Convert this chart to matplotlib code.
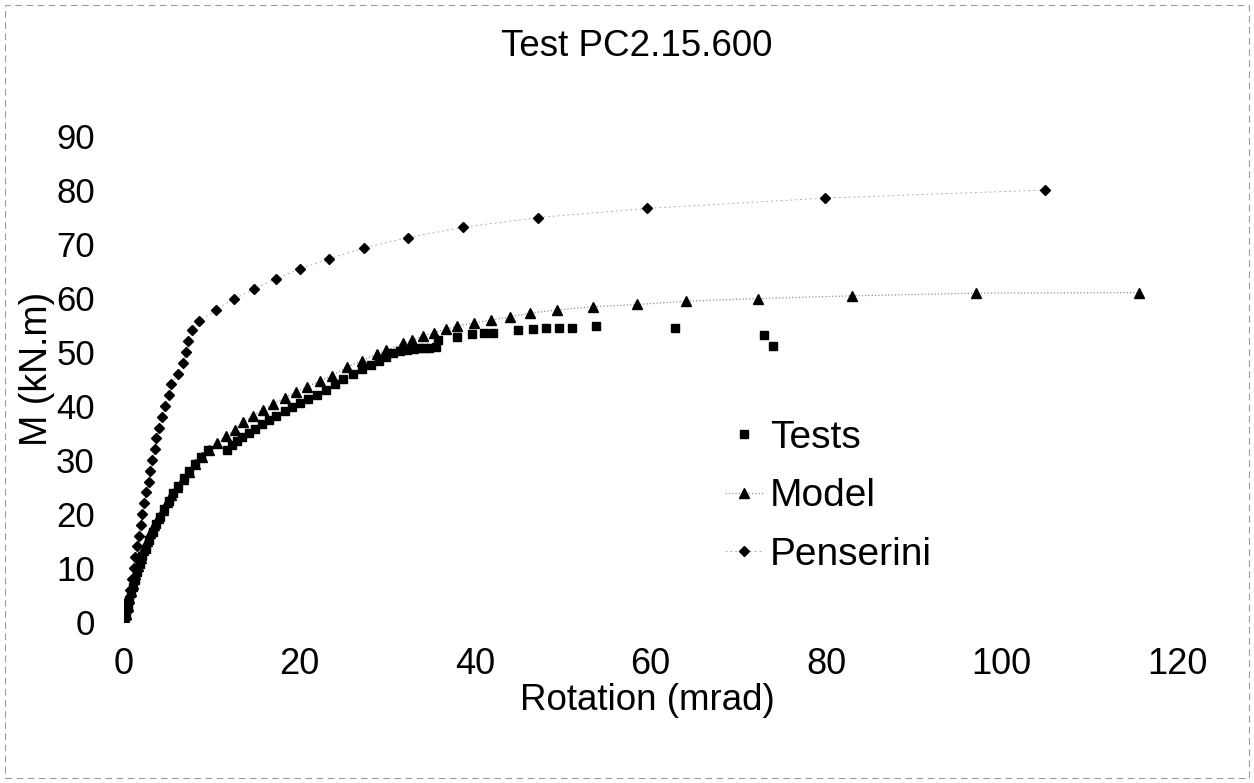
#!/usr/bin/env python
# -*- coding: utf-8 -*-

# Moment-rotation curve, test PC2.15.600: tests vs model vs Penserini

import matplotlib
matplotlib.use('Agg')
import matplotlib.pyplot as plt
from matplotlib.patches import Rectangle

plt.rcParams['font.family'] = ['Liberation Sans', 'DejaVu Sans']

# -----------------------------------------------------------------------------
# Data (rotation in mrad, moment in kN.m)
# -----------------------------------------------------------------------------

tests_rot = [0, 0.2, 0.4, 0.6, 0.8, 1.0, 1.2, 1.5, 1.8, 2.1, 2.5, 2.9, 3.3, 3.7,
             4.1, 4.6, 5.1, 5.6, 6.2, 6.8, 7.4, 8.1, 8.8, 9.6,
             11.7, 12.3, 12.9, 13.5, 14.2, 14.9, 15.7, 16.5, 17.3, 18.3, 19.2,
             20.1, 21.0, 22.0, 23.0, 24.0, 25.0, 26.1, 27.1, 28.1, 29.1, 29.9,
             30.6, 31.5, 32.3, 33.0, 33.6, 34.2, 34.8, 35.6, 35.8, 37.9, 39.7,
             41.0, 42.1, 44.9, 46.6, 48.1, 49.6, 51.1, 53.8, 62.8, 72.9, 74.0]
tests_m = [0, 1.2, 2.6, 4.0, 5.3, 6.5, 7.7, 9.3, 10.8, 12.2, 13.5, 15.2, 16.7, 18.1,
           19.4, 21.0, 22.4, 23.8, 25.2, 26.6, 27.9, 29.3, 30.6, 31.8,
           31.9, 32.8, 33.6, 34.3, 35.0, 35.8, 36.6, 37.4, 38.2, 39.0, 39.8,
           40.6, 41.3, 42.1, 42.9, 44.0, 45.0, 46.0, 46.8, 47.6, 48.4, 49.1,
           49.8, 50.1, 50.4, 50.6, 50.7, 50.8, 50.8, 50.9, 52.2, 52.8, 53.3,
           53.5, 53.6, 54.1, 54.2, 54.4, 54.5, 54.5, 54.9, 54.5, 53.1, 51.2]

model_rot = [0, 0.2, 0.4, 0.6, 0.8, 1.0, 1.3, 1.6, 1.9, 2.2, 2.6, 3.0, 3.4, 3.9,
             4.4, 4.9, 5.4, 6.0, 6.7, 7.4, 8.1, 8.9, 9.7, 10.6, 11.6, 12.6, 13.6,
             14.7, 15.8, 17.0, 18.3, 19.6, 20.9, 22.3, 23.7, 25.4, 27.1, 28.8,
             29.9, 31.8, 32.8, 34.1, 35.3, 36.7, 37.9, 39.9, 41.8, 44.0, 46.3,
             49.4, 53.4, 58.5, 64.0, 72.2, 83.0, 97.1, 115.7]
model_m = [0, 1.5, 3.0, 4.4, 5.8, 7.1, 8.8, 10.4, 11.9, 13.3, 15.0, 16.5, 17.9, 19.3,
           20.8, 22.2, 23.6, 25.0, 26.4, 27.8, 29.2, 30.6, 31.9, 33.2, 34.4, 35.6, 37.0,
           38.2, 39.3, 40.4, 41.5, 42.6, 43.6, 44.6, 45.6, 47.2, 48.4, 49.6,
           50.3, 51.6, 52.2, 52.9, 53.6, 54.2, 54.8, 55.4, 55.9, 56.5, 57.2,
           57.8, 58.4, 58.8, 59.4, 59.9, 60.4, 60.9, 61.0]

pens_rot = [0, 0.3, 0.5, 0.7, 0.9, 1.1, 1.3, 1.5, 1.7, 1.9, 2.1, 2.3, 2.5, 2.8,
            3.0, 3.2, 3.5, 3.7, 4.0, 4.3, 4.7, 5.1, 5.4, 6.1, 6.7, 7.1, 7.3, 7.7,
            8.6, 10.5, 12.5, 14.8, 17.3, 20.1, 23.4, 27.4, 32.4, 38.6, 47.2, 59.6,
            79.9, 104.9]
pens_m = [0, 2, 4, 6, 8, 10, 12, 14, 16, 18, 20, 22, 24, 26,
          28, 30, 32, 34, 36, 38, 40, 42, 44, 46, 48, 50, 52, 54,
          55.7, 57.8, 59.8, 61.6, 63.6, 65.4, 67.3, 69.3, 71.2, 73.1, 74.9, 76.6,
          78.5, 80.0]

x_ticks = [0, 20, 40, 60, 80, 100, 120]
y_ticks = [0, 10, 20, 30, 40, 50, 60, 70, 80, 90]

# -----------------------------------------------------------------------------
# Plot
# -----------------------------------------------------------------------------

fig = plt.figure(figsize=(12.54, 7.83), dpi=100)
ax = fig.add_axes([0.0989, 0.2056, 0.8397, 0.6207])

ax.plot(pens_rot, pens_m, linestyle=(0, (2, 3)), color='#b0b0b0', linewidth=0.7,
        marker='D', markersize=5.5, markerfacecolor='black', markeredgecolor='black',
        label='Penserini', zorder=2)
ax.plot(model_rot, model_m, linestyle=':', color='#909090', linewidth=0.9,
        marker='^', markersize=7, markerfacecolor='black', markeredgecolor='black',
        label='Model', zorder=3)
ax.plot(tests_rot, tests_m, linestyle='none',
        marker='s', markersize=5.5, markerfacecolor='black', markeredgecolor='black',
        label='Tests', zorder=4)

ax.set_xlim(0, 120)
ax.set_ylim(0, 90)
ax.set_xticks(x_ticks)
ax.set_yticks(y_ticks)
ax.tick_params(axis='x', length=0, labelsize=26, pad=18)
ax.tick_params(axis='y', length=0, labelsize=25, pad=21)
for s in ax.spines.values():
    s.set_visible(False)

ax.set_xlabel('Rotation (mrad)', fontsize=26.5)
ax.set_ylabel('M (kN.m)', fontsize=27)
ax.xaxis.set_label_coords(0.497, -0.125)
ax.yaxis.set_label_coords(-0.066, 0.52)
fig.text(0.508, 0.940, 'Test PC2.15.600', fontsize=26.5, ha='center', va='center')

h, l = ax.get_legend_handles_labels()
ax.legend(h[::-1], l[::-1], loc='upper left', bbox_to_anchor=(0.556, 0.448),
          frameon=False, fontsize=28, handlelength=1.0, handletextpad=0.15,
          labelspacing=0.58, borderaxespad=0)

# faint dashed border of the scanned page
fig.patches.append(Rectangle((0.004, 0.006), 0.992, 0.988, transform=fig.transFigure,
                             fill=False, edgecolor='#9a9a9a', linewidth=0.8,
                             linestyle=(0, (6, 4))))

fig.savefig('out.png', dpi=100)
